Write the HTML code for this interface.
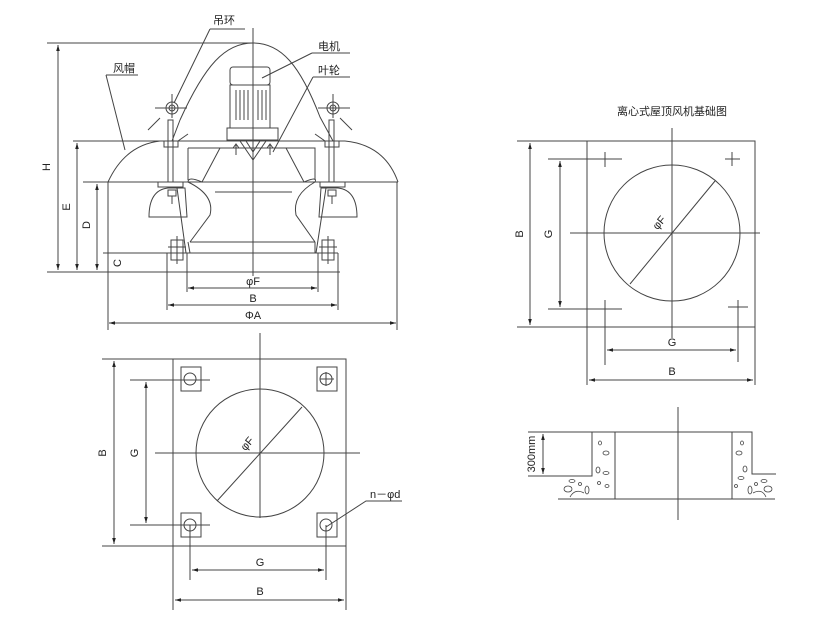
<!DOCTYPE html>
<html><head><meta charset="utf-8"><style>
body{margin:0;background:#fff}
svg{display:block}
text{font-family:"Liberation Sans","Noto Sans CJK SC",sans-serif;fill:#222;font-size:11px}
</style></head><body>
<svg width="820" height="625" viewBox="0 0 820 625" xmlns="http://www.w3.org/2000/svg">
<defs>
<marker id="a" viewBox="0 0 10 10" refX="10" refY="5" markerWidth="6" markerHeight="6" orient="auto-start-reverse"><path d="M0,2 L10,5 L0,8 z" fill="#222"/></marker>
</defs>
<g stroke="#444" stroke-width="1" fill="none">
<line x1="253" y1="28" x2="253" y2="276"/>
<line x1="47" y1="43" x2="255" y2="43"/>
<line x1="73" y1="141" x2="345" y2="141"/>
<line x1="83" y1="182" x2="398" y2="182"/>
<line x1="47" y1="272" x2="340" y2="272"/>
<line x1="103" y1="253" x2="338" y2="253"/>
<line x1="58" y1="45" x2="58" y2="270" marker-start="url(#a)" marker-end="url(#a)"/>
<line x1="77" y1="143" x2="77" y2="270" marker-start="url(#a)" marker-end="url(#a)"/>
<line x1="97" y1="184" x2="97" y2="270" marker-start="url(#a)" marker-end="url(#a)"/>
<path d="M108 182 Q125 145 160 141"/>
<path d="M345 141 Q385 145 398 182"/>
<path d="M180 120 C205 65 225 43 253 43 C281 43 300 65 320 117 L333 141"/>
<path d="M180 120 L172 141"/>
<rect x="230" y="67" width="40" height="18" rx="3"/>
<rect x="230" y="85" width="40" height="43"/>
<path d="M236 90v30M240 90v30M244 90v30M248 90v30M258 90v30M262 90v30M266 90v30"/>
<rect x="227" y="128" width="51" height="12"/>
<path d="M240 141 L253 160 L266 141 M246 141 L253 152 L260 141"/>
<path d="M236 145v10M270 145v10M233 148l3-4 3 4M267 148l3-4 3 4"/>
<path d="M188 148 H315 V180"/>
<path d="M188 148 V180"/>
<path d="M220 148 L202 182 Q188 176 188 182 Q215 195 210 215 L190 242"/>
<path d="M286 148 L304 182 Q318 176 315 182 Q292 195 296 215 L315 242"/>
<line x1="215" y1="192" x2="292" y2="192"/>
<path d="M188 242 L190 253 M315 242 L315 253"/>
<line x1="190" y1="242" x2="315" y2="242"/>
<path d="M149 217 Q149 190 168 188 L185 188 L187 217 Z"/>
<rect x="158" y="182" width="25" height="5"/>
<path d="M357 217 Q357 190 338 188 L321 188 L319 217 Z"/>
<rect x="320" y="182" width="25" height="5"/>
<rect x="168" y="120" width="5" height="62"/>
<rect x="329" y="120" width="5" height="62"/>
<rect x="164" y="141" width="14" height="6"/>
<rect x="325" y="141" width="14" height="6"/>
<circle cx="172" cy="108" r="6"/><circle cx="172" cy="108" r="3"/>
<circle cx="333" cy="108" r="6"/><circle cx="333" cy="108" r="3"/>
<path d="M155 108h32M172 94v24M318 108h32M333 94v24"/>
<path d="M148 130 L160 118 M352 130 L340 118 M178 141 L188 134 M325 141 L315 134"/>
<rect x="168" y="190" width="8" height="6"/><rect x="328" y="190" width="8" height="6"/>
<path d="M172 196v8M332 196v8"/>
<path d="M177 188 L186 253 M326 188 L316 253"/>
<rect x="171" y="240" width="12" height="20"/><path d="M168 247h18M177 236v28"/>
<rect x="322" y="240" width="12" height="20"/><path d="M319 247h18M328 236v28"/>
<path d="M108 182 V330 M397 182 V330 M167 253 V310 M338 253 V310 M187 253 V292 M318 253 V292"/>
<line x1="188" y1="288" x2="317" y2="288" marker-start="url(#a)" marker-end="url(#a)"/>
<line x1="168" y1="305" x2="337" y2="305" marker-start="url(#a)" marker-end="url(#a)"/>
<line x1="109" y1="323" x2="396" y2="323" marker-start="url(#a)" marker-end="url(#a)"/>
<path d="M210 29 L245 29 M210 29 L174 103"/>
<path d="M312 53 H350 M312 53 L262 78"/>
<path d="M313 77 H350 M313 77 L273 152"/>
<path d="M106 75 H138 M106 75 L125 150"/>

<rect x="173" y="359" width="173" height="187"/>
<circle cx="260" cy="453" r="64"/>
<line x1="260" y1="333" x2="260" y2="518"/>
<line x1="155" y1="453" x2="360" y2="453"/>
<line x1="302" y1="407" x2="217" y2="501"/>
<rect x="181" y="367" width="20" height="24"/><circle cx="190" cy="379" r="6"/>
<rect x="317" y="367" width="20" height="24"/><circle cx="326" cy="379" r="6"/>
<rect x="181" y="513" width="20" height="24"/><circle cx="190" cy="525" r="6"/>
<rect x="317" y="513" width="20" height="24"/><circle cx="326" cy="525" r="6"/>
<path d="M130 380H210M130 525H210M320 379h14M326 372v14M102 359H173M102 546H173"/>
<path d="M190 525V580M326 525V580M173 546V610M346 546V610"/>
<line x1="114" y1="361" x2="114" y2="544" marker-start="url(#a)" marker-end="url(#a)"/>
<line x1="146" y1="382" x2="146" y2="523" marker-start="url(#a)" marker-end="url(#a)"/>
<line x1="192" y1="570" x2="324" y2="570" marker-start="url(#a)" marker-end="url(#a)"/>
<line x1="175" y1="600" x2="344" y2="600" marker-start="url(#a)" marker-end="url(#a)"/>
<path d="M326 527 L366 501 H402"/>

<rect x="587" y="141" width="168" height="186"/>
<circle cx="672" cy="233" r="68"/>
<line x1="672" y1="128" x2="672" y2="338"/>
<line x1="570" y1="233" x2="760" y2="233"/>
<line x1="715" y1="181" x2="630" y2="284"/>
<path d="M517 141H587M517 327H587M548 159H622M548 309H622"/>
<path d="M605 152V167M725 159H740M732 152V166M605 300V365M728 307H748M738 300V362"/>
<path d="M587 327V385M755 327V385"/>
<line x1="530" y1="143" x2="530" y2="325" marker-start="url(#a)" marker-end="url(#a)"/>
<line x1="560" y1="161" x2="560" y2="307" marker-start="url(#a)" marker-end="url(#a)"/>
<line x1="607" y1="350" x2="736" y2="350" marker-start="url(#a)" marker-end="url(#a)"/>
<line x1="589" y1="380" x2="753" y2="380" marker-start="url(#a)" marker-end="url(#a)"/>

<path d="M528 432H752V474H776"/>
<path d="M528 476H592V432M615 432V499M732 432V499"/>
<line x1="558" y1="499" x2="775" y2="499"/>
<line x1="678" y1="407" x2="678" y2="520"/>
<line x1="543" y1="434" x2="543" y2="474" marker-start="url(#a)" marker-end="url(#a)"/>
<g stroke-width="0.8">
<ellipse cx="600" cy="443" rx="1.5" ry="2"/><ellipse cx="606" cy="453" rx="3" ry="2"/><ellipse cx="598" cy="470" rx="2" ry="3"/><ellipse cx="606" cy="473" rx="3" ry="1.5"/><ellipse cx="599" cy="483" rx="1.5" ry="1.5"/><ellipse cx="607" cy="486" rx="2" ry="1.5"/>
<ellipse cx="568" cy="489" rx="4" ry="3"/><ellipse cx="572" cy="481" rx="3" ry="1.5"/><ellipse cx="580" cy="484" rx="1.5" ry="1.5"/><ellipse cx="587" cy="490" rx="2" ry="4"/><path d="M570 497 Q575 488 584 493"/>
<ellipse cx="742" cy="443" rx="1.5" ry="2"/><ellipse cx="739" cy="453" rx="3" ry="2"/><ellipse cx="745" cy="469" rx="2" ry="3"/><ellipse cx="741" cy="478" rx="3" ry="1.5"/><ellipse cx="736" cy="486" rx="1.5" ry="1.5"/>
<ellipse cx="768" cy="489" rx="4" ry="3"/><ellipse cx="764" cy="481" rx="3" ry="1.5"/><ellipse cx="756" cy="484" rx="1.5" ry="1.5"/><ellipse cx="750" cy="490" rx="2" ry="4"/><path d="M766 497 Q762 488 753 493"/>
</g>
</g>

<text x="213" y="24" font-size="12">吊环</text>
<text x="318" y="50" font-size="12">电机</text>
<text x="318" y="74" font-size="12">叶轮</text>
<text x="113" y="72" font-size="12">风帽</text>
<text x="50" y="167" transform="rotate(-90 50 167)" text-anchor="middle">H</text>
<text x="70" y="207" transform="rotate(-90 70 207)" text-anchor="middle">E</text>
<text x="90" y="225" transform="rotate(-90 90 225)" text-anchor="middle">D</text>
<text x="121" y="263" transform="rotate(-90 121 263)" text-anchor="middle">C</text>
<text x="253" y="285" text-anchor="middle">φF</text>
<text x="253" y="302" text-anchor="middle">B</text>
<text x="253" y="319" text-anchor="middle">ΦA</text>

<text x="106" y="453" transform="rotate(-90 106 453)" text-anchor="middle">B</text>
<text x="138" y="453" transform="rotate(-90 138 453)" text-anchor="middle">G</text>
<text x="250" y="446" transform="rotate(-50 250 446)" text-anchor="middle" font-size="10">φF</text>
<text x="260" y="566" text-anchor="middle">G</text>
<text x="260" y="595" text-anchor="middle">B</text>
<text x="370" y="498">n－φd</text>

<text x="672" y="115" text-anchor="middle" font-size="11">离心式屋顶风机基础图</text>
<text x="523" y="234" transform="rotate(-90 523 234)" text-anchor="middle">B</text>
<text x="552" y="234" transform="rotate(-90 552 234)" text-anchor="middle">G</text>
<text x="662" y="225" transform="rotate(-50 662 225)" text-anchor="middle" font-size="10">φF</text>
<text x="672" y="346" text-anchor="middle">G</text>
<text x="672" y="375" text-anchor="middle">B</text>
<text x="535" y="454" transform="rotate(-90 535 454)" text-anchor="middle" font-size="10">300mm</text>
</svg>
</body></html>
